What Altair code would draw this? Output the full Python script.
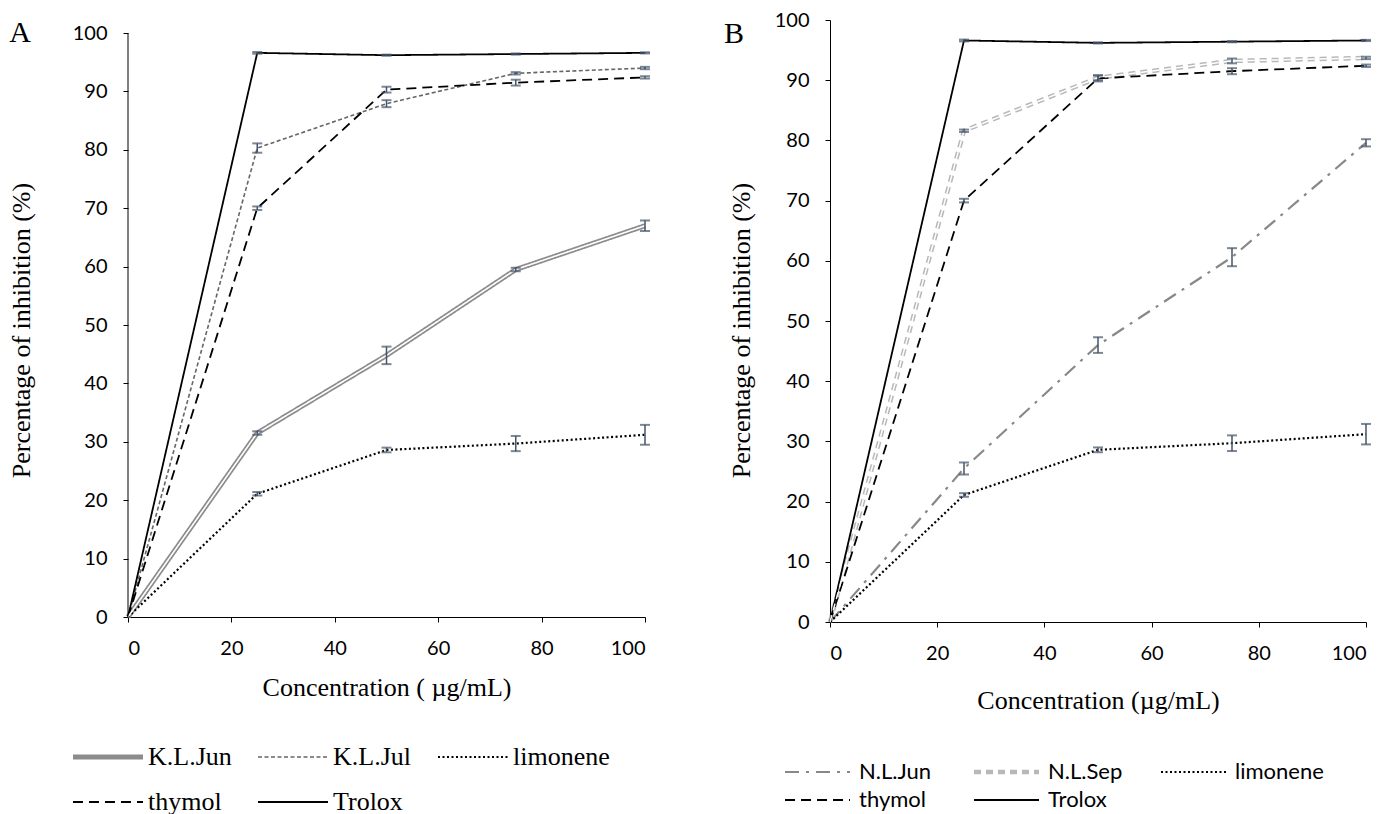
import altair as alt
import pandas as pd

# ---------------- data ----------------
conc = [0, 25, 50, 75, 100]
x_ticks = [0, 20, 40, 60, 80, 100]
y_ticks = [0, 10, 20, 30, 40, 50, 60, 70, 80, 90, 100]

# Panel A
a_names = ["K.L.Jun", "K.L.Jul", "limonene", "thymol", "Trolox"]
a_kl_jun = [0, 31.5, 44.8, 59.5, 67.0]
a_kl_jun_err = [0, 0.3, 1.5, 0.3, 0.9]
a_kl_jul = [0, 80.3, 87.9, 93.1, 94.0]
a_kl_jul_err = [0, 0.8, 0.6, 0.2, 0.2]
limonene = [0, 21.1, 28.6, 29.7, 31.2]
limonene_err = [0, 0.3, 0.4, 1.3, 1.7]
thymol = [0, 70.0, 90.3, 91.5, 92.4]
thymol_err = [0, 0.3, 0.5, 0.5, 0.2]
trolox = [0, 96.6, 96.2, 96.4, 96.6]
trolox_err = [0, 0.15, 0.1, 0.1, 0.1]

# Panel B
b_names = ["N.L.Jun", "N.L.Sep", "limonene ", "thymol ", "Trolox "]
b_nl_jun = [0, 25.5, 46.0, 60.6, 79.6]
b_nl_jun_err = [0, 1.0, 1.3, 1.5, 0.6]
b_nl_sep = [0, 81.6, 90.4, 93.2, 93.7]
b_nl_sep_err = [0, 0.2, 0.4, 0.4, 0.2]

# ---------------- styles ----------------
SERIF = "Liberation Serif"
SANS = "Lato"
EB = "#44546A"

a_colors = ["#8c8c8c", "#666666", "#000000", "#000000", "#000000"]
a_dashes = [[1, 0], [4, 2.5], [2, 2.5], [10, 6], [1, 0]]
a_widths = [5, 1.6, 2.2, 1.8, 1.8]

b_colors = ["#888888", "#b8b8b8", "#000000", "#000000", "#000000"]
b_dashes = [[14, 7, 3, 7], [7, 5], [2, 2.5], [10, 6], [1, 0]]
b_widths = [2.2, 4.5, 2.2, 1.8, 1.8]


def long_df(names, vals, errs):
    rows = []
    for n, v, e in zip(names, vals, errs):
        for c, y, s in zip(conc, v, e):
            rows.append(dict(series=n, conc=c, value=y, err=s, lo=y - s, hi=y + s))
    return pd.DataFrame(rows)


df_a = long_df(a_names, [a_kl_jun, a_kl_jul, limonene, thymol, trolox],
               [a_kl_jun_err, a_kl_jul_err, limonene_err, thymol_err, trolox_err])
df_b = long_df(b_names, [b_nl_jun, b_nl_sep, limonene, thymol, trolox],
               [b_nl_jun_err, b_nl_sep_err, limonene_err, thymol_err, trolox_err])


def panel(df, names, colors, dashes, widths, width, height, ymax, xtitle,
          ytitle_x, ytitle_y, xtitle_y, letter, letter_x, letter_y,
          leg_x, leg_y, leg_font, leg_size, leg_path, leg_off, leg_colpad, leg_rowpad,
          overlays, draw_own_yaxis):
    base = alt.Chart(df)
    xenc = alt.X("conc:Q", scale=alt.Scale(domain=[0, 100], nice=False),
                 axis=alt.Axis(values=x_ticks, title=xtitle, titleY=xtitle_y,
                               titleBaseline="middle"))
    yenc = alt.Y("value:Q", scale=alt.Scale(domain=[0, ymax], nice=False),
                 axis=alt.Axis(values=y_ticks, title="Percentage of inhibition (%)",
                               titleX=ytitle_x, titleY=ytitle_y, titleAngle=-90,
                               titleAlign="center", titleBaseline="middle",
                               domain=not draw_own_yaxis))
    leg = alt.Legend(orient="none", legendX=leg_x, legendY=leg_y, columns=3,
                     direction="horizontal",
                     title=None, symbolType=leg_path, symbolSize=100,
                     labelFont=leg_font, labelFontSize=leg_size, labelColor="black",
                     columnPadding=leg_colpad, rowPadding=leg_rowpad, labelOffset=leg_off,
                     labelLimit=300)
    lines = base.mark_line(clip=False).encode(
        x=xenc, y=yenc,
        color=alt.Color("series:N", scale=alt.Scale(domain=names, range=colors), legend=leg),
        strokeDash=alt.StrokeDash("series:N", scale=alt.Scale(domain=names, range=dashes), legend=leg),
        strokeWidth=alt.StrokeWidth("series:N", scale=alt.Scale(type="ordinal", domain=names, range=widths), legend=leg),
    )
    layers = [lines]
    for name, w, dash in overlays:
        layers.append(
            base.transform_filter(alt.datum.series == name)
            .mark_line(color="white", strokeWidth=w, strokeDash=dash)
            .encode(x="conc:Q", y="value:Q")
        )
    ebase = base.transform_filter("datum.err > 0")
    layers.append(ebase.mark_rule(color=EB, strokeWidth=1.5).encode(x="conc:Q", y="lo:Q", y2="hi:Q"))
    layers.append(ebase.mark_tick(orient="horizontal", size=10, thickness=2, color=EB).encode(x="conc:Q", y="lo:Q"))
    layers.append(ebase.mark_tick(orient="horizontal", size=10, thickness=2, color=EB).encode(x="conc:Q", y="hi:Q"))
    if draw_own_yaxis:
        layers.append(
            alt.Chart(pd.DataFrame({"y0": [min(y_ticks)], "y1": [max(y_ticks)]}))
            .mark_rule(color="black", strokeWidth=1)
            .encode(x=alt.value(0), y="y0:Q", y2="y1:Q")
        )
    layers.append(
        alt.Chart(pd.DataFrame({"t": [letter]})).mark_text(
            font=SERIF, fontSize=30, align="center", baseline="middle", color="black"
        ).encode(text="t:N", x=alt.value(letter_x), y=alt.value(letter_y))
    )
    return alt.layer(*layers).properties(width=width, height=height)


pa = panel(df_a, a_names, a_colors, a_dashes, a_widths, 517, 597, 100 * 597 / 584,
           "Concentration ( \u00b5g/mL)", -107, 310, 70, "A", -108, 13,
           -6, 724, SERIF, 26, "M-12.4,0H1.6", 0, 22, 19,
           [("K.L.Jun", 1.6, [1, 0])], True)
pb = panel(df_b, b_names, b_colors, b_dashes, b_widths, 536, 602, 100,
           "Concentration (\u00b5g/mL)", -89, 310, 78, "B", -96, 14,
           4, 741, SANS, 22, "M-12,0H1", 3, 33, 6,
           [("N.L.Sep", 1.5, [7, 5])], False)

chart = alt.hconcat(pa, pb, spacing=185, bounds="flush").resolve_scale(
    color="independent", strokeDash="independent", strokeWidth="independent",
    x="independent", y="independent"
).resolve_legend(
    color="independent", strokeDash="independent", strokeWidth="independent"
).properties(
    padding={"left": 8, "top": 10, "right": 2, "bottom": 2},
    background="white",
).configure_view(stroke=None).configure_axis(
    grid=False, domainColor="black", domainWidth=1, tickColor="black", tickSize=5,
    labelFont=SANS, labelFontSize=20, labelColor="black", labelPadding=16,
    titleFont=SERIF, titleFontSize=26, titleFontWeight="normal", titleColor="black",
)

chart.save("out.html", embed_options={"renderer": "svg", "actions": False})
